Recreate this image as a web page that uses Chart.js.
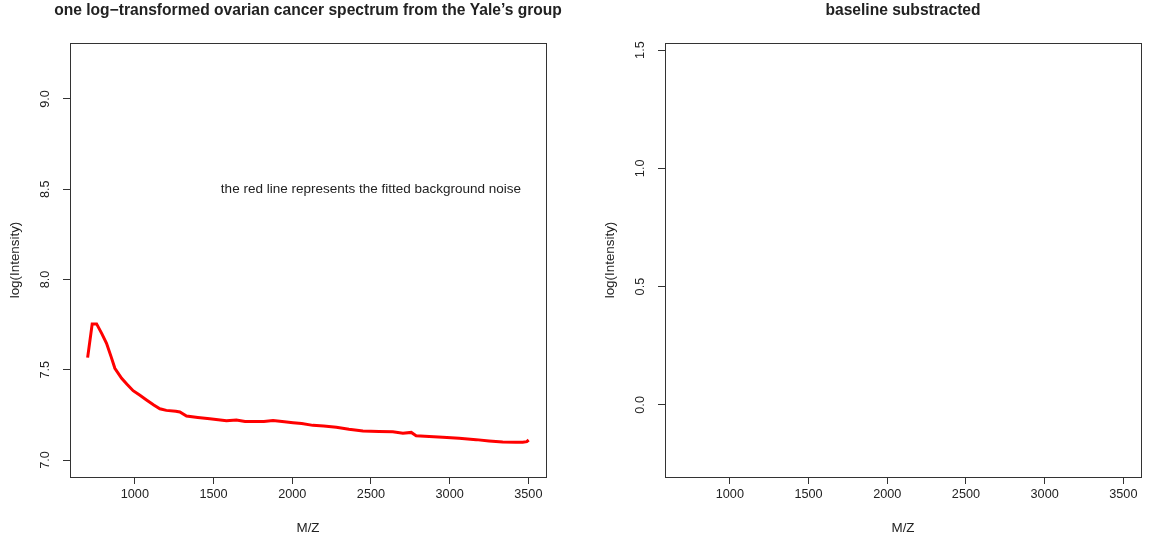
<!DOCTYPE html>
<html>
<head>
<meta charset="utf-8">
<script src="https://cdn.jsdelivr.net/npm/chart.js@4.4.1/dist/chart.umd.min.js"></script>
<style>
  body { margin: 0; background: #fff; }
  #wrap { position: relative; width: 1150px; height: 540px; }
  canvas { position: absolute; top: 0; }
</style>
</head>
<body>
<div id="wrap">
  <canvas id="left" width="575" height="540" style="left:0"></canvas>
  <canvas id="right" width="575" height="540" style="left:575px"></canvas>
</div>
<script>
// fitted background noise (red line)
const mz = [700, 729, 757, 790, 820, 850, 873, 916, 950, 989, 1030, 1074, 1120, 1159, 1200, 1260, 1286, 1328,
  1400, 1476, 1582, 1645, 1700, 1751, 1820, 1878, 1950, 2005, 2060, 2131, 2200, 2280, 2360, 2449, 2550, 2639,
  2703, 2756, 2787, 2870, 2956, 3060, 3168, 3250, 3337, 3420, 3464, 3490, 3502];
const fondo = [7.567, 7.754, 7.754, 7.70, 7.647, 7.57, 7.508, 7.453, 7.42, 7.384, 7.36, 7.333, 7.305, 7.284,
  7.275, 7.27, 7.266, 7.244, 7.236, 7.229, 7.218, 7.222, 7.214, 7.214, 7.214, 7.219, 7.212, 7.207, 7.202, 7.192,
  7.188, 7.181, 7.17, 7.161, 7.158, 7.157, 7.148, 7.153, 7.135, 7.131, 7.126, 7.12, 7.113, 7.106, 7.100, 7.099,
  7.098, 7.102, 7.111];

const xTicks = [1000, 1500, 2000, 2500, 3000, 3500];
const yTicksEsq = [7.0, 7.5, 8.0, 8.5, 9.0];
const yTicksDir = [0.0, 0.5, 1.0, 1.5];

const titulos = ["one log\u2212transformed ovarian cancer spectrum from the Yale\u2019s group", "baseline substracted"];
const nota = "the red line represents the fitted background noise";

const fonte = "'Liberation Sans', Arial, Helvetica, sans-serif";
const corTexto = "#222";

// box, main title, vertical y tick labels and the note (R style)
const estiloR = {
  id: "estiloR",
  afterDraw(chart) {
    const { ctx, chartArea: a } = chart;
    const y = chart.scales.y;
    const extra = chart.options.plugins.estiloR;
    ctx.save();
    ctx.strokeStyle = "#333";
    ctx.lineWidth = 1;
    ctx.strokeRect(Math.round(a.left) + 0.5, Math.round(a.top) + 0.5,
      Math.round(a.right - a.left), Math.round(a.bottom - a.top));

    ctx.fillStyle = corTexto;
    ctx.textAlign = "center";
    ctx.textBaseline = "middle";
    ctx.font = "bold 15.6px " + fonte;
    ctx.fillText(extra.titulo, (a.left + a.right) / 2, 11);

    ctx.font = "12.7px " + fonte;
    y.ticks.forEach((t) => {
      const py = y.getPixelForValue(t.value);
      ctx.save();
      ctx.translate(a.left - 24.5, py);
      ctx.rotate(-Math.PI / 2);
      ctx.fillText(t.value.toFixed(1), 0, 0);
      ctx.restore();
    });

    if (extra.nota) {
      ctx.font = "13.5px " + fonte;
      ctx.fillText(extra.nota.texto, chart.scales.x.getPixelForValue(extra.nota.x), y.getPixelForValue(extra.nota.y));
    }
    ctx.restore();
  },
};

function opcoes(titulo, yMin, yMax, yTicks, padEsq, padDir, nota) {
  return {
    responsive: false,
    animation: false,
    devicePixelRatio: 1,
    layout: { padding: { left: padEsq, right: padDir, top: 43, bottom: 0 } },
    plugins: {
      legend: { display: false },
      tooltip: { enabled: false },
      title: { display: false },
      estiloR: { titulo: titulo, nota: nota },
    },
    scales: {
      x: {
        type: "linear",
        min: 588,
        max: 3612,
        afterBuildTicks: (s) => { s.ticks = xTicks.map((v) => ({ value: v })); },
        afterFit: (s) => { s.height = 63; },
        border: { display: false },
        grid: { drawOnChartArea: false, drawTicks: true, tickLength: 7, color: "#333" },
        ticks: {
          color: corTexto,
          padding: 3,
          maxRotation: 0,
          font: { family: fonte, size: 12.7 },
          callback: (v) => String(v),
        },
        title: {
          display: true,
          text: "M/Z",
          color: corTexto,
          font: { family: fonte, size: 13.4, lineHeight: 1.2 },
          padding: { top: 0, bottom: 3.5 },
        },
      },
      y: {
        type: "linear",
        min: yMin,
        max: yMax,
        afterBuildTicks: (s) => { s.ticks = yTicks.map((v) => ({ value: v })); },
        afterFit: (s) => { s.width = 70; },
        border: { display: false },
        grid: { drawOnChartArea: false, drawTicks: true, tickLength: 7, color: "#333" },
        ticks: { display: false },
        title: {
          display: true,
          text: "log(Intensity)",
          color: corTexto,
          font: { family: fonte, size: 13.4, lineHeight: 1.2 },
          padding: { top: 7.3, bottom: 0 },
        },
      },
    },
  };
}

new Chart(document.getElementById("left"), {
  type: "line",
  data: {
    datasets: [{
      data: mz.map((x, i) => ({ x: x, y: fondo[i] })),
      borderColor: "#ff0000",
      borderWidth: 3,
      pointRadius: 0,
      tension: 0,
      fill: false,
    }],
  },
  options: opcoes(titulos[0], 6.906, 9.31, yTicksEsq, 0, 29, { texto: nota, x: 2500, y: 8.5 }),
  plugins: [estiloR],
});

new Chart(document.getElementById("right"), {
  type: "line",
  data: { datasets: [] },
  options: opcoes(titulos[1], -0.305, 1.53, yTicksDir, 20, 9, null),
  plugins: [estiloR],
});
</script>
</body>
</html>
